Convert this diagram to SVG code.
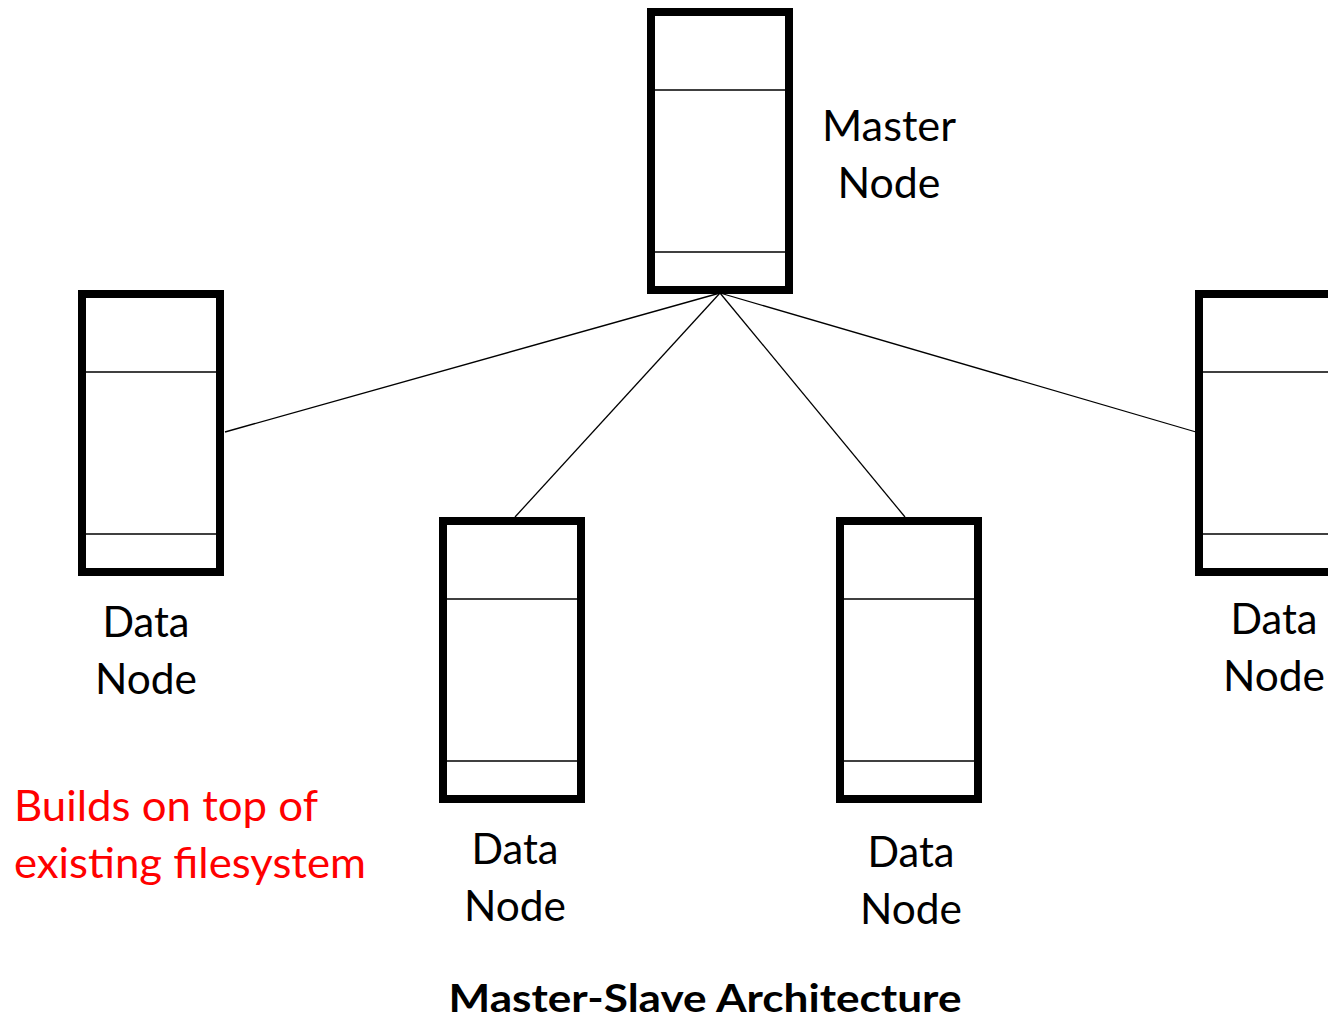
<svg xmlns="http://www.w3.org/2000/svg" width="1328" height="1020" viewBox="0 0 1328 1020">
  <defs>
    <style>
      .box { fill: #ffffff; stroke: #000000; stroke-width: 8; }
      .div { stroke: #000000; stroke-width: 1.5; }
      .link { stroke: #000000; stroke-width: 1.3; fill: none; }
      .label { font-family: Lato, "Open Sans", "Liberation Sans", sans-serif; font-size: 42px; fill: #000000; text-anchor: middle; }
      .note { font-family: Lato, "Open Sans", "Liberation Sans", sans-serif; font-size: 42px; fill: #ff0000; }
      .title { font-family: Lato, "Open Sans", "Liberation Sans", sans-serif; font-size: 39px; font-weight: bold; fill: #000000; text-anchor: middle; }
    </style>
    <!-- server unit: tall frame with two horizontal bays -->
    <g id="server">
      <rect class="box" x="0" y="0" width="138" height="278"/>
      <line class="div" x1="4" y1="78" x2="134" y2="78"/>
      <line class="div" x1="4" y1="240" x2="134" y2="240"/>
    </g>
  </defs>

  <rect width="1328" height="1020" fill="#ffffff"/>

  <!-- links from the master to each data node -->
  <g id="connectors">
    <line class="link" x1="720" y1="293" x2="225" y2="432"/>
    <line class="link" x1="720" y1="293" x2="515" y2="517"/>
    <line class="link" x1="720" y1="293" x2="905" y2="517"/>
    <line class="link" x1="720" y1="293" x2="1196" y2="432"/>
  </g>

  <g id="master-node">
    <use href="#server" x="651" y="12"/>
    <text class="label" x="889" y="141" textLength="134" lengthAdjust="spacingAndGlyphs">Master</text>
    <text class="label" x="889" y="198" textLength="103" lengthAdjust="spacingAndGlyphs">Node</text>
  </g>

  <g id="data-node-1">
    <use href="#server" x="82" y="294"/>
    <text class="label" x="146" y="637" textLength="87" lengthAdjust="spacingAndGlyphs">Data</text>
    <text class="label" x="146" y="694" textLength="102" lengthAdjust="spacingAndGlyphs">Node</text>
  </g>

  <g id="data-node-2">
    <use href="#server" x="443" y="521"/>
    <text class="label" x="515" y="864" textLength="87" lengthAdjust="spacingAndGlyphs">Data</text>
    <text class="label" x="515" y="921" textLength="102" lengthAdjust="spacingAndGlyphs">Node</text>
  </g>

  <g id="data-node-3">
    <use href="#server" x="840" y="521"/>
    <text class="label" x="911" y="867" textLength="87" lengthAdjust="spacingAndGlyphs">Data</text>
    <text class="label" x="911" y="924" textLength="102" lengthAdjust="spacingAndGlyphs">Node</text>
  </g>

  <g id="data-node-4">
    <use href="#server" x="1199" y="294"/>
    <text class="label" x="1274" y="634" textLength="87" lengthAdjust="spacingAndGlyphs">Data</text>
    <text class="label" x="1274" y="691" textLength="102" lengthAdjust="spacingAndGlyphs">Node</text>
  </g>

  <g id="note">
    <text class="note" x="14" y="821" textLength="304" lengthAdjust="spacingAndGlyphs">Builds on top of</text>
    <text class="note" x="14" y="878" textLength="352" lengthAdjust="spacingAndGlyphs">existing filesystem</text>
  </g>

  <g id="caption">
    <text class="title" x="705" y="1012" textLength="513" lengthAdjust="spacingAndGlyphs">Master-Slave Architecture</text>
  </g>
</svg>
